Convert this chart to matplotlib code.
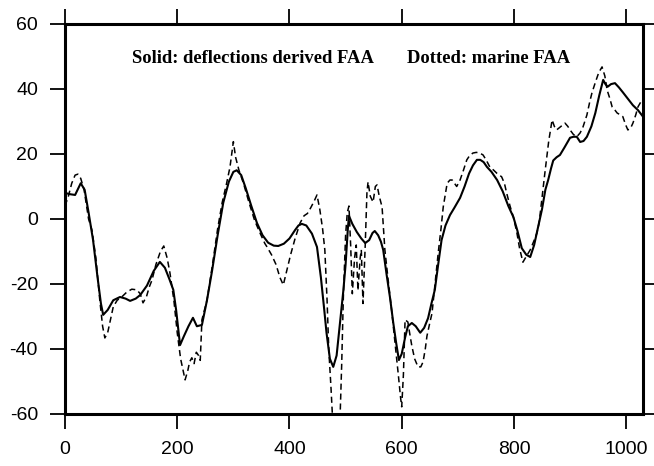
import matplotlib
matplotlib.use('Agg')
import matplotlib.pyplot as plt

plt.rcParams['axes.unicode_minus'] = False

# --- Data ---
solid_x = [0, 10, 18, 28, 35, 42, 50, 58, 64, 68, 76, 86, 98, 108, 116, 126, 134, 146, 158, 169,
           178, 186, 193, 198, 205, 212, 220, 228, 235, 244, 253, 262, 272, 282, 292, 300, 306, 314,
           322, 332, 342, 352, 362, 372, 380, 390, 400, 410, 416, 422, 430, 440, 449, 456, 462, 466,
           472, 478, 484, 490, 496, 500, 504, 506, 512, 520, 528, 535, 542, 548, 552, 558, 563, 567,
           573, 579, 585, 590, 595, 600, 606, 611, 618, 625, 633, 640, 647, 653, 659, 665, 671, 678,
           686, 694, 704, 712, 720, 727, 734, 740, 746, 752, 760, 770, 780, 790, 799, 806, 814, 822,
           829, 836, 843, 850, 856, 861, 866, 870, 876, 882, 890, 900, 906, 912, 918, 924, 930, 938,
           945, 952, 959, 963, 967, 973, 980, 987, 994, 1003, 1012, 1021, 1030]
solid_y = [8, 7.6, 7.4, 11, 9, 2, -6.5, -18, -26, -29.5, -28, -25, -24, -24.5, -25.2, -24.5, -23.4,
           -20.5, -16, -13.2, -15, -18.5, -21.8, -28, -38.8, -36, -33, -30.4, -33, -32.6, -25, -16, -5,
           5, 11.5, 14.5, 15, 13.5, 9.5, 4, -1.2, -5, -7.3, -8.2, -8.3, -7.6, -6, -3.4, -2, -1.5, -2,
           -4.5, -8.6, -18, -28, -35, -43, -45.5, -42, -32, -22, -14, -3, 1, -1.5, -4, -6, -7.4, -6.5,
           -4.3, -3.7, -5, -7, -9.5, -17, -24, -32, -38, -43.4, -41.5, -36.5, -33, -32, -33, -35,
           -33.5, -30.5, -26, -21.8, -14, -6.5, -2, 1.2, 3.5, 6.5, 10, 14, 16.5, 18.2, 18.2, 17.5, 16,
           14.5, 12, 8.5, 4, 0.6, -3.5, -9, -11, -11.7, -8, -2.5, 3, 9, 12, 15.5, 18, 19, 19.7, 22, 25,
           25.3, 25.3, 23.7, 24, 25.3, 28.5, 32.6, 38, 42.8, 41.5, 40.7, 41.5, 41.8, 40.5, 39, 37, 35,
           33.5, 31.5]

dotted_x = [0, 6, 12, 18, 23, 28, 34, 42, 48, 55, 62, 67, 71, 76, 81, 86, 93, 101, 110, 119, 128,
            134, 139, 145, 150, 155, 162, 170, 176, 182, 187, 194, 200, 206, 214, 219, 222, 226, 230,
            234, 238, 241, 244, 253, 262, 272, 280, 288, 294, 300, 304, 310, 318, 328, 338, 348, 356,
            360, 368, 376, 383, 389, 395, 402, 410, 419, 426, 432, 438, 444, 449, 454, 459, 463, 467,
            470, 474, 477, 483, 490, 493, 496, 500, 503, 506, 509, 512, 516, 519, 522, 526, 528, 531,
            535, 538, 540, 544, 549, 553, 556, 560, 565, 570, 576, 582, 588, 594, 598, 600, 603, 606,
            611, 615, 618, 623, 629, 634, 638, 642, 645, 650, 654, 660, 665, 670, 674, 681, 686, 690,
            694, 698, 704, 710, 716, 721, 727, 733, 739, 745, 751, 757, 764, 770, 778, 783, 787, 793,
            799, 805, 810, 816, 822, 829, 835, 841, 845, 849, 855, 862, 868, 872, 876, 884, 891, 896,
            900, 906, 912, 918, 923, 930, 935, 939, 945, 951, 957, 962, 966, 971, 975, 980, 984, 990,
            994, 999, 1003, 1008, 1012, 1017, 1021, 1026, 1030]
dotted_y = [4, 7, 11, 13.5, 13.8, 12.5, 9, 0, -3.4, -12, -25, -33, -36.6, -35, -31, -27, -25, -24,
            -22.5, -21.6, -21.8, -23, -25.8, -24, -21, -18.8, -14, -10, -8.3, -12, -16.6, -25, -35,
            -43, -49.5, -46.5, -44, -42.7, -44.5, -41, -42, -43.5, -31, -25, -15, -3, 5, 11, 16, 23.8,
            19, 15, 11, 5, -0.5, -4.5, -7.5, -8.6, -11, -14, -18, -20.3, -16, -11, -6, -1.2, 1, 1.7,
            3.5, 5.5, 7.4, 3, -3, -9.5, -25, -40, -52, -62, -64, -62, -45, -24, -5, 2, 4, -8, -23, -12,
            -8, -22, -12, -9.5, -26, -8, 8, 11.4, 7, 5.2, 10, 10.5, 7, 3.7, -9.5, -19, -28, -38, -48,
            -55, -57.8, -48, -31, -31.7, -36, -39, -43, -45.5, -45.5, -44, -40, -36, -32, -29, -19,
            -10.5, -3, 3.7, 11, 12, 12, 11, 10, 12, 15, 18.2, 19.5, 20.3, 20.5, 20.3, 19.7, 18, 16, 15,
            14, 13, 11, 8, 4, 0.6, -4, -9, -13.3, -11.5, -9.5, -7, -4.3, -1, 5, 14, 24, 30.5, 28.5,
            27.4, 28.5, 29.5, 28.5, 27.4, 26, 25.3, 26.5, 28.3, 32, 36, 38.8, 42, 45, 46.8, 44, 39.7,
            37, 34.5, 33.5, 32.6, 32, 31.5, 29, 27.4, 28, 29.5, 32, 34.5, 36, 37]

x_ticks = [0, 200, 400, 600, 800, 1000]
y_ticks = [-60, -40, -20, 0, 20, 40, 60]

# --- Plot ---
fig = plt.figure(figsize=(6.54, 4.66), dpi=100)
ax = fig.add_axes([0.0994, 0.1116, 0.8838, 0.8369])

ax.plot(solid_x, solid_y, color='black', linewidth=1.5)
ax.plot(dotted_x, dotted_y, color='black', linewidth=1.1, linestyle=(0, (4, 2.5)))

ax.set_xlim(0, 1030)
ax.set_ylim(-60, 60)
ax.set_xticks(x_ticks)
ax.set_yticks(y_ticks)

for side in ['left', 'right', 'top', 'bottom']:
    ax.spines[side].set_linewidth(2.2)

ax.tick_params(direction='out', length=10.5, width=1.3, pad=9,
               top=True, right=True, labeltop=False, labelright=False)
for lab in ax.get_xticklabels() + ax.get_yticklabels():
    lab.set_fontfamily('Liberation Sans')
    lab.set_fontsize(14)

ax.text(119, 48, 'Solid: deflections derived FAA', family='Liberation Serif',
        fontweight='bold', fontsize=13.4, va='baseline')
ax.text(609, 48, 'Dotted: marine FAA', family='Liberation Serif',
        fontweight='bold', fontsize=13.4, va='baseline')

fig.savefig('out.png', dpi=100)
